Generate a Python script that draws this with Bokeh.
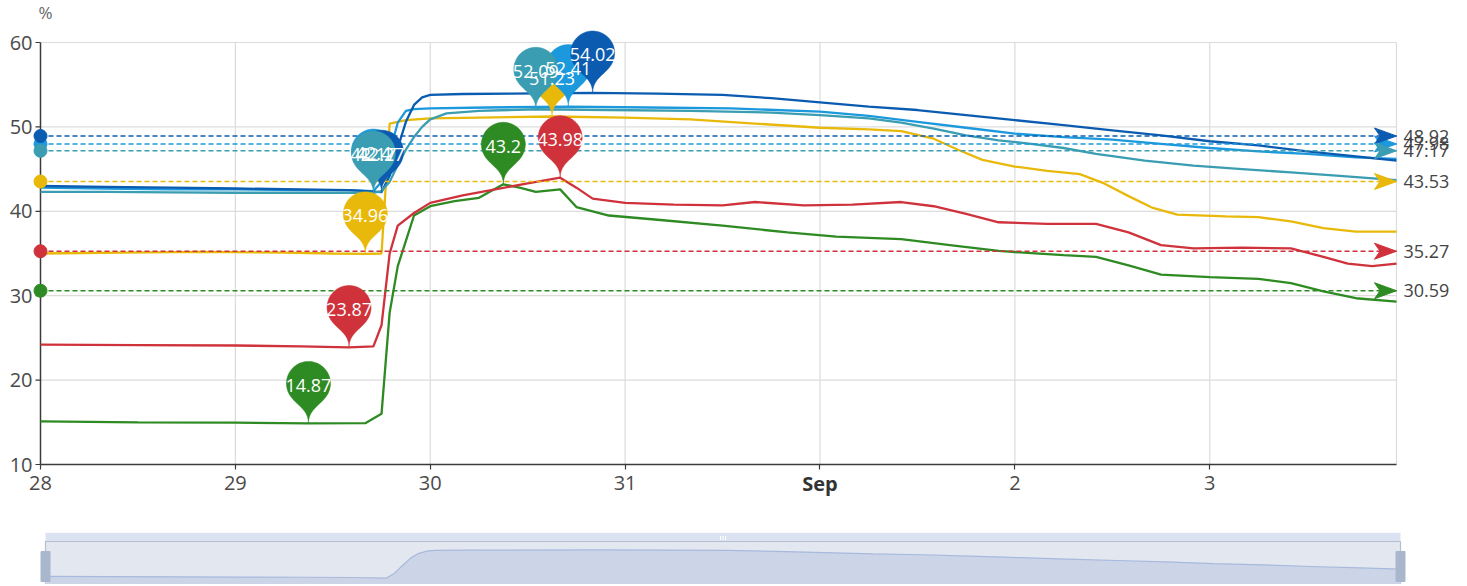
import math
import numpy as np
from bokeh.plotting import figure
from bokeh.layouts import column
from bokeh.models import Range1d, FixedTicker
from bokeh.core.properties import value
from bokeh.embed import file_html
from bokeh.resources import INLINE

# ---------------- data ----------------
x_tick_hours = [0, 24, 48, 72, 96, 120, 144]
x_tick_labels = ["28", "29", "30", "31", "Sep", "2", "3"]
y_ticks = [10, 20, 30, 40, 50, 60]
y_unit = "%"
last_hour = 167

green_hours = [0, 12, 24, 33, 40, 42, 43, 44, 45, 46, 48, 51, 54, 57, 59, 61, 64, 66, 70, 76, 84, 92, 98, 106, 112, 118, 126, 130, 134, 138, 144, 150, 154, 158, 162, 167]
green_values = [15.1, 15.0, 14.95, 14.87, 14.9, 16.0, 28.0, 33.5, 36.5, 39.5, 40.6, 41.2, 41.6, 43.2, 42.8, 42.3, 42.6, 40.5, 39.5, 39.0, 38.3, 37.5, 37.0, 36.7, 36.0, 35.3, 34.8, 34.6, 33.6, 32.5, 32.2, 32.0, 31.5, 30.5, 29.7, 29.3]

red_hours = [0, 12, 24, 32, 38, 41, 42, 43, 44, 46, 48, 52, 56, 60, 64, 66, 68, 72, 78, 84, 88, 94, 100, 106, 110, 114, 118, 124, 130, 134, 138, 142, 148, 154, 158, 161, 164, 167]
red_values = [24.2, 24.15, 24.1, 24.0, 23.87, 24.0, 26.5, 35.0, 38.3, 39.8, 41.0, 41.9, 42.6, 43.3, 43.98, 42.8, 41.5, 41.0, 40.8, 40.7, 41.1, 40.7, 40.8, 41.1, 40.6, 39.7, 38.7, 38.5, 38.5, 37.5, 36.0, 35.6, 35.7, 35.6, 34.6, 33.8, 33.5, 33.8]

yellow_hours = [0, 10, 20, 30, 36, 40, 42, 43, 45, 48, 54, 63, 72, 80, 88, 96, 102, 106, 110, 113, 116, 120, 124, 128, 131, 134, 137, 140, 146, 150, 154, 158, 162, 167]
yellow_values = [35.0, 35.1, 35.2, 35.1, 35.0, 34.96, 35.0, 50.4, 50.8, 51.0, 51.1, 51.23, 51.1, 50.9, 50.4, 49.9, 49.7, 49.5, 48.6, 47.3, 46.1, 45.3, 44.8, 44.4, 43.3, 41.8, 40.4, 39.6, 39.4, 39.3, 38.8, 38.0, 37.6, 37.6]

blue_hours = [0, 8, 16, 24, 32, 38, 41, 42, 43, 44, 45, 46, 48, 55, 65, 75, 85, 96, 102, 108, 114, 120, 126, 132, 138, 144, 150, 156, 162, 167]
blue_values = [42.8, 42.7, 42.6, 42.6, 42.5, 42.5, 42.4, 43.5, 47.0, 50.5, 51.9, 52.1, 52.2, 52.3, 52.41, 52.3, 52.2, 51.8, 51.3, 50.6, 49.9, 49.2, 48.8, 48.5, 48.0, 47.5, 47.1, 46.8, 46.4, 46.2]

dark_blue_hours = [0, 8, 16, 24, 32, 38, 42, 43, 44, 45, 46, 47, 48, 52, 58, 68, 76, 84, 90, 96, 102, 108, 114, 120, 126, 132, 138, 144, 150, 156, 162, 167]
dark_blue_values = [43.0, 42.9, 42.8, 42.7, 42.6, 42.5, 42.27, 44.2, 47.5, 50.6, 52.6, 53.5, 53.8, 53.9, 53.95, 54.02, 53.95, 53.8, 53.4, 52.9, 52.4, 52.0, 51.4, 50.8, 50.2, 49.6, 49.0, 48.3, 47.8, 47.1, 46.5, 46.0]

teal_hours = [0, 8, 16, 24, 32, 38, 41, 42, 43, 44, 45, 46, 47, 48, 50, 54, 61, 70, 80, 90, 96, 102, 106, 110, 114, 118, 122, 126, 130, 136, 142, 148, 154, 160, 167]
teal_values = [42.3, 42.3, 42.25, 42.2, 42.2, 42.2, 42.17, 42.4, 43.5, 45.5, 47.3, 48.8, 50.0, 50.9, 51.6, 51.9, 52.09, 52.0, 51.9, 51.7, 51.4, 51.0, 50.5, 49.8, 49.0, 48.4, 48.0, 47.5, 46.8, 46.0, 45.4, 45.0, 44.6, 44.2, 43.7]

series_names = ["green", "red", "yellow", "blue", "dark_blue", "teal"]
series_hours = [green_hours, red_hours, yellow_hours, blue_hours, dark_blue_hours, teal_hours]
series_values = [green_values, red_values, yellow_values, blue_values, dark_blue_values, teal_values]
series_colors = ["#2e8a22", "#d0323c", "#e8b90a", "#1c98dc", "#0b5cb0", "#3a9db2"]
avg_values = [30.59, 35.27, 43.53, 47.98, 48.92, 47.17]

# ---------------- geometry (page pixels) ----------------
TOTAL_W = 1459
AX_LEFT_PX, AX_RIGHT_PX = 40, 1396      # x = 0 .. last_hour
AX_TOP_PX, AX_BOTTOM_PX = 42, 464       # y = 60 .. 10
MAIN_H = 524
PXH = (AX_RIGHT_PX - AX_LEFT_PX) / last_hour
PXV = (AX_BOTTOM_PX - AX_TOP_PX) / (y_ticks[-1] - y_ticks[0])
x_start = -AX_LEFT_PX / PXH
x_end = (TOTAL_W - AX_LEFT_PX) / PXH
y_start = y_ticks[0] - (MAIN_H - AX_BOTTOM_PX) / PXV
y_end = y_ticks[0] + AX_BOTTOM_PX / PXV
FONT = "Open Sans"
AXIS_COLOR = "#3a3a3a"
LABEL_COLOR = "#4a4a4a"

p = figure(frame_width=TOTAL_W, frame_height=MAIN_H,
           x_range=Range1d(x_start, x_end), y_range=Range1d(y_start, y_end),
           y_axis_location=None,
           min_border_left=0, min_border_right=0, min_border_top=0, min_border_bottom=0,
           toolbar_location=None, output_backend="svg",
           background_fill_color="white", border_fill_color="white")
p.outline_line_color = None
p.grid.visible = False

# x axis (real axis, pinned at y = 10)
p.xaxis.ticker = FixedTicker(ticks=x_tick_hours)
p.xaxis.bounds = (0, last_hour)
p.xaxis.fixed_location = y_ticks[0]
p.xaxis.major_label_overrides = {h: ("" if lab == "Sep" else lab) for h, lab in zip(x_tick_hours, x_tick_labels)}
xa = p.xaxis[0]
xa.axis_line_color = AXIS_COLOR
xa.axis_line_width = 1.5
xa.major_tick_line_color = AXIS_COLOR
xa.major_tick_line_width = 1.2
xa.major_tick_out = 5
xa.major_tick_in = 0
xa.minor_tick_line_color = None
xa.major_label_text_font = FONT
xa.major_label_text_font_size = "20px"
xa.major_label_text_color = LABEL_COLOR
xa.major_label_standoff = 6

# grid lines and right border
hy = y_ticks[1:]
p.segment(x0=[0] * len(hy), y0=hy, x1=[last_hour] * len(hy), y1=hy, line_color="#dcdcdc", line_width=1.2)
vx = x_tick_hours[1:] + [last_hour]
p.segment(x0=vx, y0=[y_ticks[0]] * len(vx), x1=vx, y1=[y_ticks[-1]] * len(vx),
          line_color="#dcdcdc", line_width=1.2)

# y axis drawn at x = 0
p.segment(x0=[0], y0=[y_ticks[0]], x1=[0], y1=[y_ticks[-1]], line_color=AXIS_COLOR, line_width=1.5)
p.segment(x0=[-5 / PXH] * len(y_ticks), y0=y_ticks, x1=[0] * len(y_ticks), y1=y_ticks,
          line_color=AXIS_COLOR, line_width=1.2)
p.text(x=[-8 / PXH] * len(y_ticks), y=y_ticks, text=[str(t) for t in y_ticks],
       text_align="right", text_baseline="middle", text_color=LABEL_COLOR,
       text_font=value(FONT), text_font_size="20px")

# series lines
for hrs, vals, col in zip(series_hours, series_values, series_colors):
    p.line(hrs, vals, line_color=col, line_width=2.3)

# average mark lines
for avg, col in zip(avg_values, series_colors):
    p.segment(x0=[0], y0=[avg], x1=[last_hour], y1=[avg], line_color=col,
              line_width=1.5, line_dash="5 3")
    L, W = 22, 8
    ax_px = [0, -L, -0.75 * L, -L]
    ay_px = [0, W, 0, -W]
    p.patch([last_hour + a / PXH for a in ax_px], [avg + b / PXV for b in ay_px],
            fill_color=col, line_color=col)
p.scatter(x=[0] * len(avg_values), y=avg_values, size=13, color=series_colors)
p.text(x=[last_hour + 7 / PXH] * len(avg_values), y=avg_values, text=[f"{a:.2f}" for a in avg_values],
       text_align="left", text_baseline="middle", text_color="#444444",
       text_font=value(FONT), text_font_size="18px")

# pin (ECharts style) outline in pixels relative to tip
R, HH = 22.0, 71.7
DY = R * R / (HH - R)
C = HH - R - DY
ANG = math.asin(DY / R)
DX = math.cos(ANG) * R


def bez(p0, p1, p2, p3, n=14):
    out = []
    for t in np.linspace(0, 1, n)[1:]:
        a, b, c, d = (1 - t) ** 3, 3 * (1 - t) ** 2 * t, 3 * (1 - t) * t ** 2, t ** 3
        out.append((a * p0[0] + b * p1[0] + c * p2[0] + d * p3[0],
                    a * p0[1] + b * p1[1] + c * p2[1] + d * p3[1]))
    return out


pin_px = [(R * math.cos(t), C - R * math.sin(t)) for t in np.linspace(math.pi - ANG, 2 * math.pi + ANG, 48)]
pin_px += bez((DX, C - DY), (DX - math.sin(ANG) * 0.6 * R, C - DY - math.cos(ANG) * 0.6 * R), (0, 0.7 * R), (0, 0))
pin_px += bez((0, 0), (0, 0.7 * R), (-DX + math.sin(ANG) * 0.6 * R, C - DY - math.cos(ANG) * 0.6 * R), (-DX, C - DY))

pin_texts = []
for hrs, vals, col in zip(series_hours, series_values, series_colors):
    for idx in (int(np.argmax(vals)), int(np.argmin(vals))):
        hx, vy = hrs[idx], vals[idx]
        p.patch([hx + a / PXH for a, b in pin_px], [vy + b / PXV for a, b in pin_px],
                fill_color=col, line_color=col, line_width=0.5)
        pin_texts.append((hx, vy + 38 / PXV, str(vals[idx])))

p.text(x=[t[0] for t in pin_texts], y=[t[1] for t in pin_texts], text=[t[2] for t in pin_texts],
       text_align="center", text_baseline="middle", text_color="white",
       text_font=value(FONT), text_font_size="18px")

# unit label and bold month label
p.text(x=[5 / PXH], y=[y_ticks[-1] + 30 / PXV], text=[y_unit], text_align="center",
       text_baseline="middle", text_font=value(FONT), text_font_size="17px", text_color="#666666")
sep_h = x_tick_hours[x_tick_labels.index("Sep")]
p.text(x=[sep_h], y=[y_ticks[0] - 5 / PXV], text=["Sep"], text_align="center",
       text_baseline="top", text_font=value(FONT), text_font_size="20px",
       text_font_style="bold", text_color="#333333")

# ---------------- data zoom slider (same frame width so frames align) ----------------
S_LEFT, S_RIGHT = 45, 1400
PXS = (S_RIGHT - S_LEFT) / last_hour
sh = dark_blue_hours
sv = dark_blue_values
vmin, vmax = min(sv), max(sv)
rng = vmax - vmin
lo, hi = vmin - 0.3 * rng, vmax + 0.3 * rng
ppu = 45 / (hi - lo)

s = figure(frame_width=TOTAL_W, frame_height=52,
           x_range=Range1d(-S_LEFT / PXS, (TOTAL_W - S_LEFT) / PXS), y_range=Range1d(0, 52),
           min_border_left=0, min_border_right=0, min_border_top=8, min_border_bottom=0,
           x_axis_location=None, y_axis_location=None,
           toolbar_location=None, output_backend="svg",
           background_fill_color="white", border_fill_color="white")
s.outline_line_color = None
s.grid.visible = False
s.extra_y_ranges = {"shadow": Range1d(lo + 2 / ppu, hi + 9 / ppu)}

s.quad(left=[0], right=[last_hour], bottom=[43], top=[52], fill_color="#dbe3f3", line_color=None)
s.quad(left=[0], right=[last_hour], bottom=[-2], top=[43], fill_color="#e3e7ef",
       line_color="#b5bfcf", line_width=1.2)
s.varea(x=sh, y1=[lo + 2 / ppu] * len(sh), y2=sv, fill_color="#ccd5e8", y_range_name="shadow")
s.line(sh, sv, line_color="#a7b9dd", line_width=1.2, y_range_name="shadow")
for hx in (0, last_hour):
    s.quad(left=[hx - 4.5 / PXS], right=[hx + 4.5 / PXS], bottom=[3], top=[33],
           fill_color="#a9b7cd", line_color="#a9b7cd")
mid = last_hour / 2
gx = [mid - 2.5 / PXS, mid, mid + 2.5 / PXS]
s.segment(x0=gx, y0=[44.5] * 3, x1=gx, y1=[48.5] * 3, line_color="#ffffff", line_width=1)

layout = column(p, s)
open("out.html", "w").write(file_html(layout, INLINE))
